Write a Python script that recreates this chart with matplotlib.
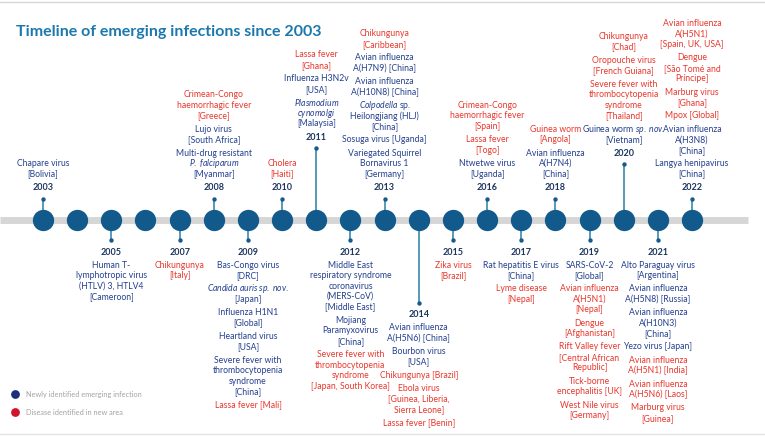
import matplotlib
matplotlib.use('Agg')
import matplotlib.pyplot as plt

plt.rcParams['font.family'] = ['Lato', 'DejaVu Sans']
plt.rcParams['mathtext.fontset'] = 'custom'
plt.rcParams['mathtext.rm'] = 'Lato'
plt.rcParams['mathtext.it'] = 'Lato:italic'

BLUE = '#24408e'
RED = '#e8372c'

# data: year -> (side, blocks); each block = (text, kind)  kind: 'new' / 'area'
years = list(range(2003, 2023))
side = {2003: 'up', 2005: 'down', 2007: 'down', 2008: 'up', 2009: 'down',
        2010: 'up', 2011: 'up', 2012: 'down', 2013: 'up', 2014: 'down',
        2015: 'down', 2016: 'up', 2017: 'down', 2018: 'up', 2019: 'down',
        2020: 'up', 2021: 'down', 2022: 'up'}
long_stems = {2011: 71, 2014: 83, 2020: 55}

events = {
    2003: [('Chapare virus\n[Bolivia]', 'new')],
    2005: [('Human T-\nlymphotropic virus\n(HTLV) 3, HTLV4\n[Cameroon]', 'new')],
    2007: [('Chikungunya\n[Italy]', 'area')],
    2008: [('Crimean-Congo\nhaemorrhagic fever\n[Greece]', 'area'),
           ('Lujo virus\n[South Africa]', 'new'),
           ('Multi-drug resistant\n$\\mathit{P.\\ falciparum}$\n[Myanmar]', 'new')],
    2009: [('Bas-Congo virus\n[DRC]', 'new'),
           ('$\\mathit{Candida\\ auris\\ sp.\\ nov.}$\n[Japan]', 'new'),
           ('Influenza H1N1\n[Global]', 'new'),
           ('Heartland virus\n[USA]', 'new'),
           ('Severe fever with\nthrombocytopenia\nsyndrome\n[China]', 'new'),
           ('Lassa fever [Mali]', 'area')],
    2010: [('Cholera\n[Haiti]', 'area')],
    2011: [('Lassa fever\n[Ghana]', 'area'),
           ('Influenza H3N2v\n[USA]', 'new'),
           ('$\\mathit{Plasmodium}$\n$\\mathit{cynomolgi}$\n[Malaysia]', 'new')],
    2012: [('Middle East\nrespiratory syndrome\ncoronavirus\n(MERS-CoV)\n[Middle East]', 'new'),
           ('Mojiang\nParamyxovirus\n[China]', 'new'),
           ('Severe fever with\nthrombocytopenia\nsyndrome\n[Japan, South Korea]', 'area')],
    2013: [('Chikungunya\n[Caribbean]', 'area'),
           ('Avian influenza\nA(H7N9) [China]', 'new'),
           ('Avian influenza\nA(H10N8) [China]', 'new'),
           ('$\\mathit{Colpodella}$ sp.\nHeilongjiang (HLJ)\n[China]', 'new'),
           ('Sosuga virus [Uganda]', 'new'),
           ('Variegated Squirrel\nBornavirus 1\n[Germany]', 'new')],
    2014: [('Avian influenza\nA(H5N6) [China]', 'new'),
           ('Bourbon virus\n[USA]', 'new'),
           ('Chikungunya [Brazil]', 'area'),
           ('Ebola virus\n[Guinea, Liberia,\nSierra Leone]', 'area'),
           ('Lassa fever [Benin]', 'area')],
    2015: [('Zika virus\n[Brazil]', 'area')],
    2016: [('Crimean-Congo\nhaemorrhagic fever\n[Spain]', 'area'),
           ('Lassa fever\n[Togo]', 'area'),
           ('Ntwetwe virus\n[Uganda]', 'new')],
    2017: [('Rat hepatitis E virus\n[China]', 'new'),
           ('Lyme disease\n[Nepal]', 'area')],
    2018: [('Guinea worm\n[Angola]', 'area'),
           ('Avian influenza\nA(H7N4)\n[China]', 'new')],
    2019: [('SARS-CoV-2\n[Global]', 'new'),
           ('Avian influenza\nA(H5N1)\n[Nepal]', 'area'),
           ('Dengue\n[Afghanistan]', 'area'),
           ('Rift Valley fever\n[Central African\nRepublic]', 'area'),
           ('Tick-borne\nencephalitis [UK]', 'area'),
           ('West Nile virus\n[Germany]', 'area')],
    2020: [('Chikungunya\n[Chad]', 'area'),
           ('Oropouche virus\n[French Guiana]', 'area'),
           ('Severe fever with\nthrombocytopenia\nsyndrome\n[Thailand]', 'area'),
           ('Guinea worm $\\mathit{sp.\\ nov.}$\n[Vietnam]', 'new')],
    2021: [('Alto Paraguay virus\n[Argentina]', 'new'),
           ('Avian influenza\nA(H5N8) [Russia]', 'new'),
           ('Avian influenza\nA(H10N3)\n[China]', 'new'),
           ('Yezo virus [Japan]', 'new'),
           ('Avian influenza\nA(H5N1) [India]', 'area'),
           ('Avian influenza\nA(H5N6) [Laos]', 'area'),
           ('Marburg virus\n[Guinea]', 'area')],
    2022: [('Avian influenza\nA(H5N1)\n[Spain, UK, USA]', 'area'),
           ('Dengue\n[São Tomé and\nPríncipe]', 'area'),
           ('Marburg virus\n[Ghana]', 'area'),
           ('Mpox [Global]', 'area'),
           ('Avian influenza\nA(H3N8)\n[China]', 'new'),
           ('Langya henipavirus\n[China]', 'new')],
}

legend_items = [('Newly identified emerging infection', '#1b2f7c'),
                ('Disease identified in new area', '#d0142c')]

# layout in pixel coordinates
fig = plt.figure(figsize=(7.65, 4.36), dpi=100)
ax = fig.add_axes([0, 0, 1, 1])
ax.set_xlim(0, 765)
ax.set_ylim(436, 0)
ax.axis('off')

x0, dx, yc = 43, 34.16, 219.5
line_h, gap = 10.5, 2.8
fs = 6.2

ax.plot([0, 765], [2, 2], color='#d8d8d8', lw=1)
ax.plot([0, 765], [434, 434], color='#e2e2e2', lw=1)
ax.text(16, 32, 'Timeline of emerging infections since 2003', color='#1b78ad',
        fontsize=11.5, fontweight='bold', va='center', ha='left')

ax.plot([0, 748], [yc, yc], color='#d6d6d6', lw=5, solid_capstyle='butt', zorder=1)

for yr in years:
    x = x0 + (yr - 2003) * dx
    ax.scatter([x], [yc], s=235, color='#125a8b', zorder=3, linewidths=0)
    if yr not in events:
        continue
    s = side[yr]
    length = long_stems.get(yr, 20.5)
    sign = -1 if s == 'up' else 1
    ytip = yc + sign * length
    ax.plot([x, x], [yc, ytip], color='#2a7fa6', lw=1.1, zorder=2)
    ax.scatter([x], [ytip], s=10, color='#155a8a', zorder=3, linewidths=0)
    ylab = ytip + sign * (11.5 if s == 'up' else 12)
    ax.text(x, ylab, str(yr), ha='center', va='center', fontsize=6.5,
            fontweight='bold', color='#1c355e')

    blocks = events[yr]
    if s == 'down':
        y = ylab + 13
        for txt, kind in blocks:
            for ln in txt.split('\n'):
                ax.text(x, y, ln, ha='center', va='center', fontsize=fs,
                        color=BLUE if kind == 'new' else RED)
                y += line_h
            y += gap
    else:
        y = ylab - 13.5
        for txt, kind in reversed(blocks):
            for ln in reversed(txt.split('\n')):
                ax.text(x, y, ln, ha='center', va='center', fontsize=fs,
                        color=BLUE if kind == 'new' else RED)
                y -= line_h
            y -= gap

for i, (lab, col) in enumerate(legend_items):
    yy = 394 + i * 18
    ax.scatter([15], [yy], s=40, color=col, linewidths=0)
    ax.text(26, yy, lab, va='center', ha='left', fontsize=5.3, color='#a3a3a3')

fig.savefig('out.png', dpi=100)
